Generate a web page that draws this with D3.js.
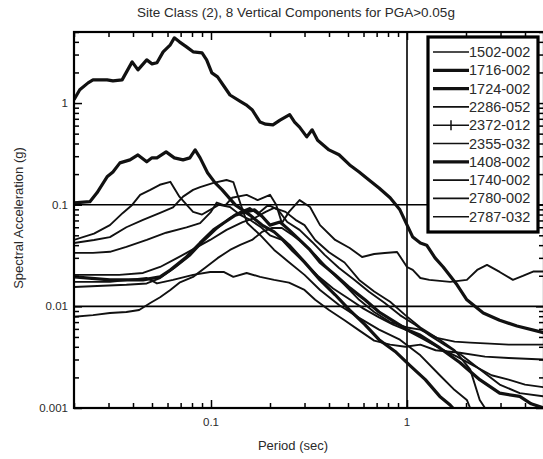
<!DOCTYPE html>
<html>
<head>
<meta charset="utf-8">
<script src="https://cdn.jsdelivr.net/npm/d3@7"></script>
<style>
body { margin: 0; background: #fff; }
svg { display: block; }
text { font-family: "Liberation Sans", Arial, sans-serif; fill: #2a2a2a; }
</style>
</head>
<body>
<svg width="543" height="459"></svg>
<script>
// record ids, in legend order
var names = ['1502-002', '1716-002', '1724-002', '2286-052', '2372-012',
             '2355-032', '1408-002', '1740-002', '2780-002', '2787-032'];
var thick = [false, true, true, false, false, false, true, false, false, false];

// [period (sec), spectral acceleration (g)]
var s1502 = [[0.02,0.045],[0.0253,0.052],[0.0305,0.063],[0.0355,0.083],[0.0396,0.0995],[0.0435,0.125],[0.049,0.14],
  [0.0548,0.157],[0.062,0.168],[0.069,0.12],[0.075,0.1],[0.081,0.085],[0.09,0.08],[0.1,0.09],[0.11,0.1],[0.125,0.095],
  [0.14,0.08],[0.16,0.07],[0.18,0.06],[0.2,0.05],[0.23,0.045],[0.26,0.035],[0.3,0.027],[0.35,0.02],[0.42,0.015],
  [0.5,0.012],[0.6,0.0095],[0.72,0.0078],[0.85,0.0066],[1.0,0.0058],[1.2,0.0048],[1.5,0.0038],[1.8,0.0032],
  [2.2,0.0026],[2.7,0.0021],[3.3,0.0019],[4.0,0.0017],[5.0,0.0016]];
var s1716 = [[0.02,1.08],[0.0214,1.35],[0.0236,1.58],[0.025,1.69],[0.0295,1.69],[0.0316,1.65],[0.0352,1.69],
  [0.0396,2.54],[0.0424,2.12],[0.047,2.66],[0.05,2.43],[0.053,2.49],[0.057,3.19],[0.062,3.74],[0.065,4.38],[0.069,4.0],
  [0.075,3.57],[0.081,3.19],[0.09,3.12],[0.095,2.66],[0.101,1.98],[0.108,1.81],[0.116,1.48],[0.125,1.2],[0.141,1.04],
  [0.151,0.96],[0.162,0.86],[0.178,0.65],[0.19,0.62],[0.207,0.61],[0.225,0.68],[0.252,0.77],[0.267,0.65],[0.283,0.58],
  [0.308,0.465],[0.328,0.545],[0.35,0.43],[0.4,0.346],[0.45,0.31],[0.51,0.246],[0.57,0.21],[0.64,0.175],[0.72,0.146],
  [0.82,0.117],[0.92,0.089],[1.07,0.048],[1.17,0.042],[1.26,0.04],[1.39,0.03],[1.53,0.0244],[1.8,0.0163],[2.02,0.0116],
  [2.45,0.0086],[2.97,0.0073],[3.64,0.0064],[5.0,0.0055]];
var s1724 = [[0.02,0.104],[0.0241,0.107],[0.0262,0.131],[0.0295,0.188],[0.0316,0.21],[0.0343,0.258],[0.0386,0.276],
  [0.0424,0.309],[0.047,0.264],[0.05,0.289],[0.053,0.289],[0.059,0.331],[0.065,0.289],[0.072,0.276],[0.078,0.289],
  [0.083,0.346],[0.088,0.289],[0.096,0.206],[0.105,0.164],[0.114,0.14],[0.133,0.0995],[0.158,0.079],[0.182,0.063],
  [0.21,0.054],[0.25,0.04],[0.3,0.0272],[0.36,0.0182],[0.43,0.013],[0.51,0.0092],[0.61,0.0066],[0.72,0.0047],
  [0.87,0.0036],[1.04,0.0026],[1.24,0.0019],[1.47,0.0013],[1.66,0.00107],[1.8,0.0009]];
var s2286 = [[0.02,0.042],[0.0253,0.045],[0.0305,0.048],[0.037,0.06],[0.045,0.071],[0.055,0.083],[0.064,0.094],
  [0.072,0.12],[0.081,0.14],[0.088,0.149],[0.103,0.164],[0.12,0.175],[0.13,0.167],[0.141,0.104],[0.153,0.066],
  [0.178,0.0504],[0.21,0.0359],[0.25,0.0272],[0.3,0.0204],[0.36,0.0145],[0.45,0.0103],[0.57,0.0077],[0.72,0.0059],
  [0.92,0.0047],[1.17,0.0033],[1.47,0.0021],[1.75,0.0015],[2.02,0.0012],[2.1,0.001]];
var s2372 = [[0.02,0.0336],[0.025,0.0336],[0.0305,0.0344],[0.037,0.0385],[0.047,0.045],[0.059,0.053],[0.075,0.0598],
  [0.088,0.0658],[0.1,0.085],[0.107,0.105],[0.118,0.098],[0.128,0.117],[0.152,0.125],[0.173,0.111],[0.2,0.125],
  [0.215,0.1],[0.23,0.066],[0.25,0.085],[0.283,0.111],[0.32,0.095],[0.36,0.063],[0.43,0.045],[0.51,0.0375],
  [0.59,0.0306],[0.68,0.0327],[0.77,0.0335],[0.89,0.0343],[1.0,0.0244],[1.07,0.0228],[1.17,0.019],[1.3,0.0182],
  [1.66,0.0174],[2.02,0.0182],[2.28,0.0228],[2.56,0.0256],[2.97,0.0218],[3.47,0.0182],[3.9,0.0199],[4.4,0.022],[5.0,0.022]];
var s2355 = [[0.02,0.0204],[0.025,0.0204],[0.034,0.0204],[0.045,0.0213],[0.055,0.0244],[0.067,0.0298],[0.08,0.0359],
  [0.099,0.045],[0.12,0.0565],[0.145,0.0675],[0.167,0.074],[0.19,0.085],[0.21,0.093],[0.24,0.085],[0.27,0.071],
  [0.3,0.063],[0.34,0.045],[0.4,0.034],[0.48,0.027],[0.57,0.0182],[0.68,0.014],[0.82,0.0111],[0.98,0.0082],
  [1.17,0.0062],[1.47,0.0047],[1.75,0.0037],[2.1,0.0024],[2.35,0.0012],[2.5,0.001]];
var s1408 = [[0.02,0.0195],[0.0305,0.0182],[0.045,0.0182],[0.055,0.0195],[0.062,0.0228],[0.075,0.0306],[0.088,0.042],
  [0.103,0.0565],[0.118,0.0675],[0.133,0.079],[0.15,0.085],[0.167,0.089],[0.182,0.077],[0.2,0.063],[0.225,0.0675],
  [0.25,0.0565],[0.283,0.045],[0.32,0.0359],[0.36,0.0272],[0.43,0.0204],[0.51,0.0152],[0.61,0.0116],[0.72,0.0088],
  [0.87,0.007],[1.0,0.0059],[1.17,0.0052],[1.47,0.0039],[1.86,0.0028],[2.35,0.0019],[2.97,0.0014],[3.76,0.0013],
  [4.3,0.0011],[5.0,0.001]];
var s1740 = [[0.02,0.0174],[0.0305,0.0174],[0.047,0.019],[0.053,0.0168],[0.064,0.0182],[0.081,0.0204],[0.099,0.0218],
  [0.116,0.0218],[0.13,0.0195],[0.152,0.0213],[0.178,0.0195],[0.21,0.0182],[0.25,0.0171],[0.3,0.0145],[0.34,0.0116],
  [0.4,0.0092],[0.48,0.0073],[0.57,0.0058],[0.68,0.0046],[0.82,0.0042],[0.98,0.004],[1.17,0.0042],[1.4,0.0037],
  [1.86,0.0035],[2.5,0.0032],[3.3,0.0031],[5.0,0.003]];
var s2780 = [[0.02,0.0155],[0.037,0.0163],[0.047,0.0168],[0.055,0.019],[0.065,0.0238],[0.078,0.0314],[0.093,0.045],
  [0.108,0.059],[0.125,0.074],[0.141,0.085],[0.158,0.093],[0.173,0.081],[0.196,0.0995],[0.22,0.089],[0.245,0.0675],
  [0.283,0.0565],[0.328,0.043],[0.38,0.0321],[0.45,0.0238],[0.54,0.0182],[0.64,0.0139],[0.77,0.0108],[0.92,0.0082],
  [1.1,0.0066],[1.3,0.0052],[1.55,0.0042],[1.9,0.0033],[2.35,0.0024],[2.97,0.0017],[3.76,0.0014],[5.0,0.0013]];
var s2787 = [[0.02,0.0079],[0.025,0.0082],[0.0305,0.0086],[0.037,0.0088],[0.043,0.0092],[0.049,0.0108],[0.055,0.0123],
  [0.062,0.0145],[0.069,0.0171],[0.081,0.0195],[0.093,0.0238],[0.108,0.0298],[0.125,0.0359],[0.141,0.0402],
  [0.162,0.045],[0.182,0.054],[0.205,0.059],[0.23,0.059],[0.26,0.0504],[0.29,0.043],[0.34,0.0321],[0.4,0.0228],
  [0.48,0.0163],[0.57,0.0116],[0.68,0.0088],[0.82,0.007],[1.0,0.0062],[1.17,0.0059],[1.42,0.0049],[1.75,0.0045],
  [2.1,0.0044],[2.65,0.0043],[3.3,0.0042],[3.9,0.0042],[5.0,0.0042]];
var series = [s1502, s1716, s1724, s2286, s2372, s2355, s1408, s1740, s2780, s2787];

var xLabels = [0.1, 1];
var yLabels = [0.001, 0.01, 0.1, 1];
var xGrid = [1];
var yGrid = [0.01, 0.1];

var title = 'Site Class (2), 8 Vertical Components for PGA>0.05g';

var svg = d3.select('svg');
var plotL = 74, plotR = 544, plotT = 32, plotB = 408;

var x = d3.scaleLog().domain([0.02, 5]).range([plotL, plotR]);
var y = d3.scaleLog().domain([0.001, 5]).range([plotB, plotT]);

svg.append('defs').append('clipPath').attr('id', 'plot')
    .append('rect').attr('x', plotL).attr('y', plotT)
    .attr('width', plotR - plotL).attr('height', plotB - plotT);

// grid lines
svg.selectAll('.hgrid').data(yGrid).enter().append('line')
    .attr('x1', plotL).attr('x2', plotR)
    .attr('y1', function(d) { return y(d); }).attr('y2', function(d) { return y(d); })
    .attr('stroke', '#000').attr('stroke-width', 1.6);
svg.selectAll('.vgrid').data(xGrid).enter().append('line')
    .attr('y1', plotT).attr('y2', plotB)
    .attr('x1', function(d) { return x(d); }).attr('x2', function(d) { return x(d); })
    .attr('stroke', '#000').attr('stroke-width', 1.6);

// curves
var line = d3.line()
    .x(function(d) { return x(d[0]); })
    .y(function(d) { return y(d[1]); });

svg.append('g').attr('clip-path', 'url(#plot)')
    .selectAll('path').data(series).enter().append('path')
    .attr('d', line)
    .attr('fill', 'none')
    .attr('stroke', '#111')
    .attr('stroke-linejoin', 'round')
    .attr('stroke-width', function(d, i) { return thick[i] ? 3.2 : 1.9; });

// inward ticks on all four sides
function isMajor(v) { return Math.abs(Math.log10(v) - Math.round(Math.log10(v))) < 1e-6; }
var xt = x.ticks(), yt = y.ticks();

function tickAxis(gen, pos, ticks) {
    var g = svg.append('g').attr('transform', pos);
    g.call(gen.tickValues(ticks.filter(isMajor)).tickSize(-8).tickFormat(''));
    var g2 = svg.append('g').attr('transform', pos);
    g2.call(gen.tickValues(ticks.filter(function(v) { return !isMajor(v); })).tickSize(-5).tickFormat(''));
    [g, g2].forEach(function(s) {
        s.select('.domain').remove();
        s.selectAll('line').attr('stroke', '#000').attr('stroke-width', 1.5);
    });
}
tickAxis(d3.axisBottom(x), 'translate(0,' + plotB + ')', xt);
tickAxis(d3.axisTop(x), 'translate(0,' + plotT + ')', xt);
tickAxis(d3.axisLeft(y), 'translate(' + plotL + ',0)', yt);
tickAxis(d3.axisRight(y), 'translate(' + plotR + ',0)', yt);

// frame
svg.append('rect')
    .attr('x', plotL).attr('y', plotT)
    .attr('width', plotR - plotL).attr('height', plotB - plotT)
    .attr('fill', 'none').attr('stroke', '#000').attr('stroke-width', 2.2);

// tick labels
svg.selectAll('.ylab').data(yLabels).enter().append('text')
    .attr('x', plotL - 6).attr('y', function(d) { return y(d) + 4; })
    .attr('text-anchor', 'end').attr('font-size', 11.5)
    .text(function(d) { return String(d); });
svg.selectAll('.xlab').data(xLabels).enter().append('text')
    .attr('x', function(d) { return x(d); }).attr('y', plotB + 18)
    .attr('text-anchor', 'middle').attr('font-size', 11.5)
    .text(function(d) { return String(d); });

// titles
svg.append('text').attr('x', 296).attr('y', 17)
    .attr('text-anchor', 'middle').attr('font-size', 13.5).text(title);
svg.append('text').attr('x', 293).attr('y', 450)
    .attr('text-anchor', 'middle').attr('font-size', 13).text('Period (sec)');
svg.append('text').attr('transform', 'translate(23,218) rotate(-90)')
    .attr('text-anchor', 'middle').attr('font-size', 13).text('Spectral Acceleration (g)');

// legend
var lg = svg.append('g');
lg.append('rect').attr('x', 428).attr('y', 37).attr('width', 110).attr('height', 195)
    .attr('fill', '#fff').attr('stroke', '#000').attr('stroke-width', 3.2);
var rows = lg.selectAll('.row').data(names).enter().append('g')
    .attr('transform', function(d, i) { return 'translate(0,' + (52 + i * 18.3) + ')'; });
rows.append('line')
    .attr('x1', 433).attr('x2', 469).attr('y1', 0).attr('y2', 0)
    .attr('stroke', '#111')
    .attr('stroke-width', function(d, i) { return thick[i] ? 3.2 : 1.6; });
rows.filter(function(d) { return d === '2372-012'; }).append('line')
    .attr('x1', 451).attr('x2', 451).attr('y1', -5).attr('y2', 5)
    .attr('stroke', '#111').attr('stroke-width', 1.5);
rows.append('text')
    .attr('x', 469).attr('y', 5).attr('font-size', 14.5)
    .text(function(d) { return d; });
</script>
</body>
</html>
